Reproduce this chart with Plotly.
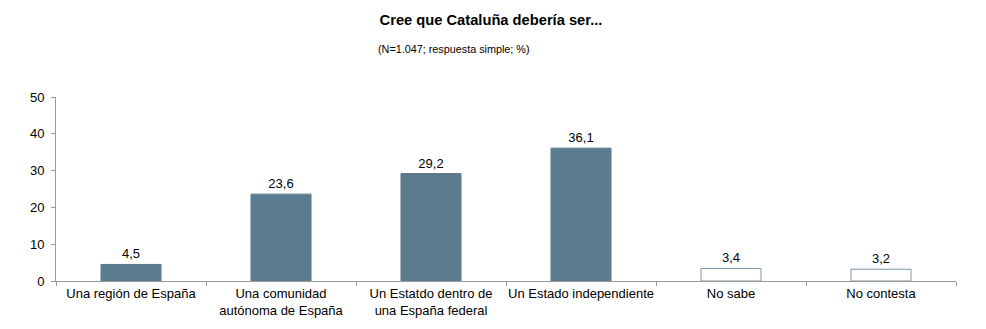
import plotly.graph_objects as go

categories = ["Una región de España", "Una comunidad<br>autónoma de España",
              "Un Estatdo dentro de<br>una España federal", "Un Estado independiente",
              "No sabe", "No contesta"]
values = [4.5, 23.6, 29.2, 36.1, 3.4, 3.2]
fill_colors = ["#5b7b8e", "#5b7b8e", "#5b7b8e", "#5b7b8e", "white", "white"]
line_colors = ["#5b7b8e", "#5b7b8e", "#5b7b8e", "#5b7b8e", "#7f98a8", "#7f98a8"]
y_ticks = [0, 10, 20, 30, 40, 50]

FONT = "Liberation Sans, Arial, sans-serif"

fig = go.Figure(go.Bar(
    x=categories, y=values, width=0.4,
    marker=dict(color=fill_colors, line=dict(color=line_colors, width=1)),
    texttemplate="%{y:.1f}", textposition="outside",
    textfont=dict(family=FONT, size=13, color="black"),
    cliponaxis=False,
))

fig.update_layout(
    width=986, height=329,
    margin=dict(l=56, r=30, t=97, b=48),
    paper_bgcolor="white", plot_bgcolor="white",
    separators=", ",
    showlegend=False,
    font=dict(family=FONT, size=13, color="black"),
    title=dict(text="<b>Cree que Cataluña debería ser...</b>", x=491 / 986, xanchor="center",
               y=1 - 20 / 329, yanchor="middle", font=dict(family=FONT, size=14.7, color="black")),
    annotations=[dict(text="(N=1.047; respuesta simple; %)", xref="paper", yref="paper",
                      x=(454 - 56) / 900, y=1 + (97 - 49) / 184, xanchor="center", yanchor="middle",
                      showarrow=False, font=dict(family=FONT, size=10.8, color="black"))],
    xaxis=dict(showline=True, linecolor="#9a9a9a", linewidth=1, ticks="outside",
               tickson="boundaries", ticklen=4, tickcolor="#9a9a9a", showgrid=False,
               tickangle=0, automargin=False,
               tickfont=dict(family=FONT, size=13, color="black")),
    yaxis=dict(range=[0, 50], tickvals=y_ticks, showline=True, linecolor="#9a9a9a", linewidth=1,
               ticks="outside", ticklen=4, tickcolor="#9a9a9a", showgrid=False, zeroline=False,
               ticklabelstandoff=4, automargin=False,
               tickfont=dict(family=FONT, size=13, color="black")),
)

fig.write_html("out.html")
